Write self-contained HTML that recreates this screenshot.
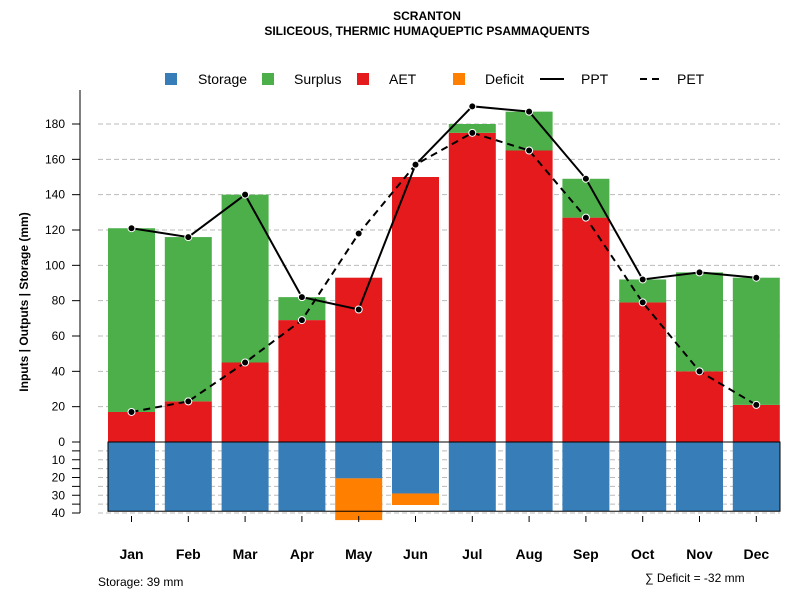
<!DOCTYPE html>
<html><head><meta charset="utf-8"><style>
body{margin:0;background:#fff;font-family:"Liberation Sans",sans-serif}
</style></head><body>
<svg id="c" width="800" height="600" xmlns="http://www.w3.org/2000/svg" font-family="Liberation Sans, sans-serif">
<text x="427" y="20" text-anchor="middle" font-size="12" font-weight="bold">SCRANTON</text>
<text x="427" y="35" text-anchor="middle" font-size="12" font-weight="bold">SILICEOUS, THERMIC HUMAQUEPTIC PSAMMAQUENTS</text>
<g id="grid"></g><g id="bars"></g><g id="lines"></g><g id="axes"></g>
<g font-size="14">
<rect x="165" y="73" width="12" height="12" fill="#377eb8"/><text x="198" y="84">Storage</text>
<rect x="262" y="73" width="12" height="12" fill="#4daf4a"/><text x="294" y="84">Surplus</text>
<rect x="357" y="73" width="12" height="12" fill="#e41a1c"/><text x="389" y="84">AET</text>
<rect x="453" y="73" width="12" height="12" fill="#ff7f00"/><text x="485" y="84">Deficit</text>
<line x1="540" y1="79" x2="564" y2="79" stroke="#000" stroke-width="2"/><text x="581" y="84">PPT</text>
<line x1="640" y1="79" x2="664" y2="79" stroke="#000" stroke-width="2" stroke-dasharray="7,5"/><text x="677" y="84">PET</text>
</g>
<text transform="translate(28,302) rotate(-90)" text-anchor="middle" font-size="12" font-weight="bold">Inputs | Outputs | Storage    (mm)</text>
<text x="98" y="586" font-size="12">Storage: 39 mm</text>
<text x="645" y="582" font-size="12">∑ Deficit = -32 mm</text>
</svg>
<script>
const months=["Jan","Feb","Mar","Apr","May","Jun","Jul","Aug","Sep","Oct","Nov","Dec"];
const ppt=[121,116,140,82,75,157,190,187,149,92,96,93];
const pet=[17,23,45,69,118,157,175,165,127,79,40,21];
const aet=[17,23,45,69,93,150,175,165,127,79,40,21];
const surplus=[104,93,95,13,0,0,5,22,22,13,56,72];
const storage=[39,39,39,39,20.5,29,39,39,39,39,39,39];
const deficit=[0,0,0,0,23.5,6.5,0,0,0,0,0,0];
const yTicks=[0,20,40,60,80,100,120,140,160,180];
const sTicks=[10,20,30,40];
const NS="http://www.w3.org/2000/svg";
const y=v=>442-v*(318/180);
const ys=v=>442+v*(71/40);
const x=i=>131.5+i*56.8;
const bw=47;
function mk(p,t,a){const e=document.createElementNS(NS,t);for(const k in a)e.setAttribute(k,a[k]);document.getElementById(p).appendChild(e);return e;}
yTicks.forEach(t=>{if(t>0){const g=mk("grid","line",{x1:98,x2:780,y1:y(t),y2:y(t),stroke:"#bbb","stroke-dasharray":"5,3"});

}
const tk=mk("axes","line",{x1:72,x2:80,y1:y(t),y2:y(t),stroke:"#000"});


const l=mk("axes","text",{x:65,y:y(t)+4,"text-anchor":"end","font-size":12});l.textContent=t;

});
for(let s=5;s<=40;s+=5){const g=mk("grid","line",{x1:98,x2:780,y1:ys(s),y2:ys(s),stroke:"#bbb","stroke-dasharray":"5,3"});


const tk=mk("axes","line",{x1:72,x2:80,y1:ys(s),y2:ys(s),stroke:"#000"});

}
sTicks.forEach(t=>{const l=mk("axes","text",{x:65,y:ys(t)+4,"text-anchor":"end","font-size":12});l.textContent=t;

});
const ax=mk("axes","line",{x1:80,x2:80,y1:90,y2:ys(40),stroke:"#000"});


months.forEach((m,i)=>{const cx=x(i);
let r=mk("bars","rect",{x:cx-bw/2,y:y(aet[i]),width:bw,height:y(0)-y(aet[i]),fill:"#e41a1c"});


if(surplus[i]>0){r=mk("bars","rect",{x:cx-bw/2,y:y(aet[i]+surplus[i]),width:bw,height:y(aet[i])-y(aet[i]+surplus[i]),fill:"#4daf4a"});

}
r=mk("bars","rect",{x:cx-bw/2,y:ys(0),width:bw,height:ys(storage[i])-ys(0),fill:"#377eb8"});


if(deficit[i]>0){r=mk("bars","rect",{x:cx-bw/2,y:ys(storage[i]),width:bw,height:ys(storage[i]+deficit[i])-ys(storage[i]),fill:"#ff7f00"});

}
const tk=mk("axes","line",{x1:cx,x2:cx,y1:516,y2:522,stroke:"#000"});


const l=mk("axes","text",{x:cx,y:559,"text-anchor":"middle","font-size":14,"font-weight":"bold"});l.textContent=m;

});
const box=mk("bars","rect",{x:108,y:ys(0),width:672,height:ys(39)-ys(0),fill:"none",stroke:"#000","stroke-width":1});


function series(arr,dash,name){const p=mk("lines","polyline",{points:arr.map((v,i)=>x(i)+","+y(v)).join(" "),fill:"none",stroke:"#000","stroke-width":2,"stroke-dasharray":dash});


arr.forEach((v,i)=>{const c=mk("lines","circle",{cx:x(i),cy:y(v),r:3.5,fill:"#000",stroke:"#fff","stroke-width":1});

});}
series(ppt,"none","ppt");series(pet,"7,5","pet");
</script>
</body></html>
